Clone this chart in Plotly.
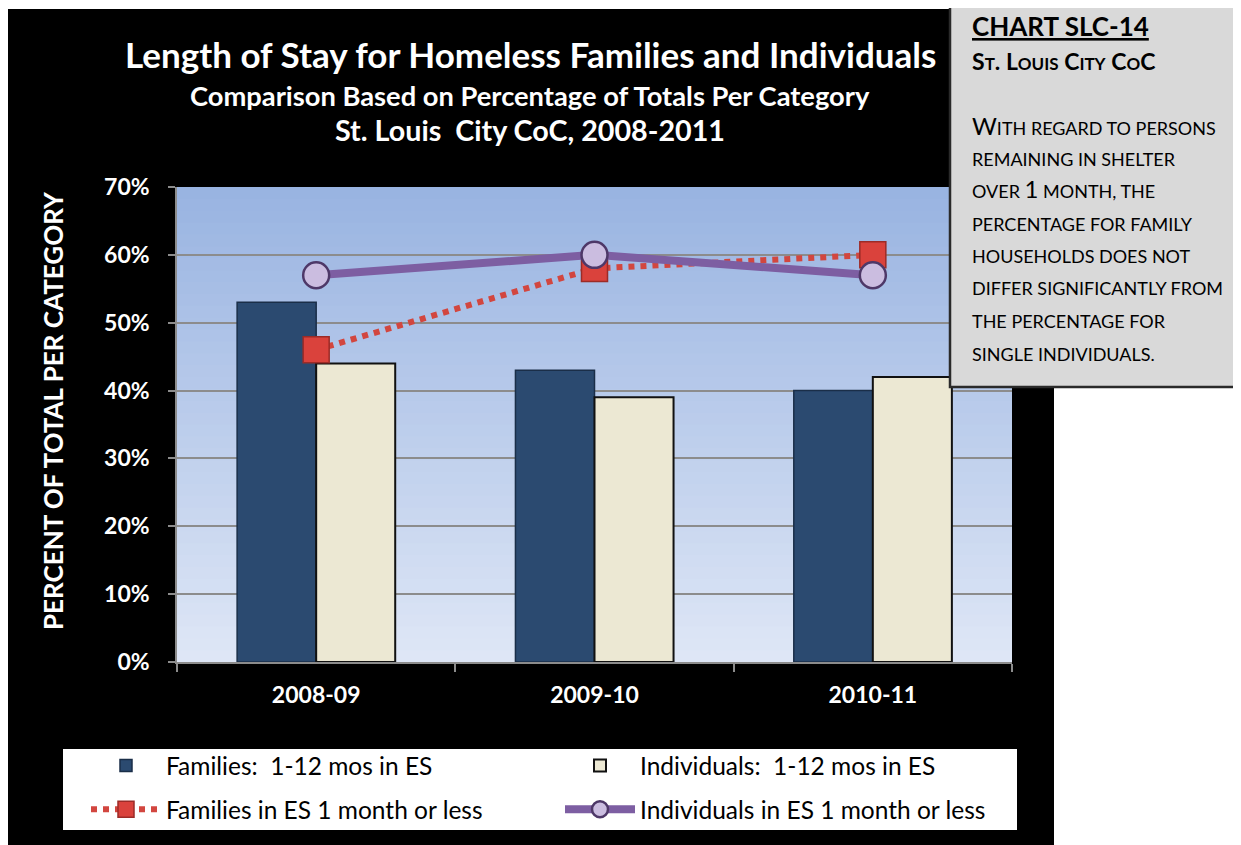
import plotly.graph_objects as go

# ---------------- data ----------------
categories = ["2008-09", "2009-10", "2010-11"]
families_1_12 = [0.53, 0.43, 0.40]
individuals_1_12 = [0.44, 0.39, 0.42]
families_1mo = [0.46, 0.58, 0.60]
individuals_1mo = [0.57, 0.60, 0.57]
y_ticks = [0, 0.1, 0.2, 0.3, 0.4, 0.5, 0.6, 0.7]

# ---------------- geometry helpers (screen px -> paper) ----------------
OFF = 8  # page body margin
W, H = 1241 - OFF, 845 - OFF
L, R, T, B = 177 - OFF, 1012 - OFF, 187 - OFF, 662 - OFF
def px(x):
    return (x - OFF - L) / (R - L)
def py(y):
    return (B - (y - OFF)) / (B - T)

FONT = "Lato"

fig = go.Figure()

fig.add_trace(go.Bar(
    x=categories, y=families_1_12, name="Families:  1-12 mos in ES",
    legend="legend", legendgroup="a",
    marker=dict(color="#2b4a70", line=dict(color="#1a2e48", width=1.5)),
))
fig.add_trace(go.Bar(
    x=categories, y=individuals_1_12, name="Individuals:  1-12 mos in ES",
    legend="legend2", legendgroup="b",
    marker=dict(color="#ece8d3", line=dict(color="#111111", width=2)),
))
fig.add_trace(go.Scatter(
    x=categories, y=families_1mo, name="Families in ES 1 month or less",
    legend="legend", legendgroup="c",
    mode="lines+markers",
    line=dict(color="#d2463f", width=6, dash="dot"),
    marker=dict(symbol="square", size=26, color="#da423c",
                line=dict(color="#9c2b27", width=1.5)),
))
fig.add_trace(go.Scatter(
    x=categories, y=individuals_1mo, name="Individuals in ES 1 month or less",
    legend="legend2", legendgroup="d",
    mode="lines+markers",
    line=dict(color="#7d5ea2", width=8),
    marker=dict(symbol="circle", size=26, color="#cbbde0",
                line=dict(color="#4e3868", width=2.5)),
))

shapes = []
# black chart area
shapes.append(dict(type="rect", xref="paper", yref="paper",
                   x0=px(8), x1=px(1054), y0=py(870), y1=py(9),
                   fillcolor="black", line=dict(width=0), layer="below"))
# legend white box
shapes.append(dict(type="rect", xref="paper", yref="paper",
                   x0=px(63), x1=px(1017), y0=py(830), y1=py(749),
                   fillcolor="white", line=dict(width=0), layer="below"))
# gradient plot background (overlapping bands to avoid seams)
n = 40
top = (152, 179, 225)
bot = (223, 231, 246)
for i in range(n):
    f = (i + 0.5) / n
    c = tuple(int(round(top[k] + (bot[k] - top[k]) * f)) for k in range(3))
    y_lo = max(0.0, 1 - (i + 1) / n - 0.006)
    shapes.append(dict(type="rect", xref="paper", yref="paper",
                       x0=0, x1=1, y0=y_lo, y1=1 - i / n,
                       fillcolor="rgb(%d,%d,%d)" % c, line=dict(width=0),
                       layer="below"))
# text box
shapes.append(dict(type="rect", xref="paper", yref="paper",
                   x0=px(950), x1=px(1260), y0=py(387), y1=py(-20),
                   fillcolor="#d9d9d9", line=dict(color="#2a2a2a", width=2.5),
                   layer="above"))

annotations = []
def ann(text, x, y, size, color="white", weight="bold", xanchor="center", angle=0):
    annotations.append(dict(text=text, x=px(x), y=py(y), xref="paper", yref="paper",
                            xanchor=xanchor, yanchor="middle", showarrow=False,
                            textangle=angle,
                            font=dict(family=FONT, size=size, color=color, weight=weight)))

ann("Length of Stay for Homeless Families and Individuals", 530, 54, 35)
ann("Comparison Based on Percentage of Totals Per Category", 530, 96, 27.3)
ann("St. Louis  City CoC, 2008-2011", 530, 130, 28.7)
ann("PERCENT OF TOTAL PER CATEGORY", 53, 411, 26, angle=-90)

# text box content
ann("<u>CHART SLC-14</u>", 970, 26, 26, color="black", xanchor="left")
sc = lambda s, sz=18: "<span style='font-size:%dpx'>%s</span>" % (sz, s)
ann("S" + sc("T", 17) + ". L" + sc("OUIS", 17) + " C" + sc("ITY", 17) + " C" + sc("O", 17) + "C",
    970, 61, 23, color="black", xanchor="left")
body = [
    "W" + sc("ITH REGARD TO PERSONS"),
    sc("REMAINING IN SHELTER"),
    sc("OVER ") + "1" + sc(" MONTH, THE"),
    sc("PERCENTAGE FOR FAMILY"),
    sc("HOUSEHOLDS DOES NOT"),
    sc("DIFFER SIGNIFICANTLY FROM"),
    sc("THE PERCENTAGE FOR"),
    sc("SINGLE INDIVIDUALS."),
]
body_y = [125, 159, 189, 224, 256, 288, 321, 354]
for t, yy in zip(body, body_y):
    ann(t, 970, yy, 24, color="black", weight="normal", xanchor="left")

leg_common = dict(
    orientation="v", yanchor="top", xanchor="left",
    bgcolor="rgba(0,0,0,0)", borderwidth=0,
    font=dict(family=FONT, size=24.5, color="black"),
    itemwidth=70, tracegroupgap=9, traceorder="grouped",
)

fig.update_layout(
    width=W, height=H,
    margin=dict(l=L, r=W - R, t=T, b=H - B, autoexpand=False),
    paper_bgcolor="white",
    plot_bgcolor="rgba(0,0,0,0)",
    barmode="group", bargap=0.432, bargroupgap=0,
    shapes=shapes, annotations=annotations,
    showlegend=True,
    legend=dict(x=px(86), y=py(743), **leg_common),
    legend2=dict(x=px(560), y=py(743), **leg_common),
    xaxis=dict(
        type="category",
        showgrid=False, showline=True, linecolor="#8c8c8c", linewidth=1.5,
        ticks="outside", ticklen=8, tickcolor="#8c8c8c", tickwidth=1.5,
        tickson="boundaries", ticklabelstandoff=12,
        tickfont=dict(family=FONT, size=23, color="white", weight="bold"),
        fixedrange=True,
    ),
    yaxis=dict(
        range=[0, 0.7], tickvals=y_ticks, tickformat=".0%",
        showgrid=True, gridcolor="#8c8c8c", gridwidth=1.5,
        showline=True, linecolor="#8c8c8c", linewidth=1.5,
        ticks="outside", ticklen=7, tickcolor="#8c8c8c", tickwidth=1.5,
        ticklabelstandoff=14, zeroline=False,
        tickfont=dict(family=FONT, size=23, color="white", weight="bold"),
        fixedrange=True,
    ),
)

fig.write_html("out.html")
